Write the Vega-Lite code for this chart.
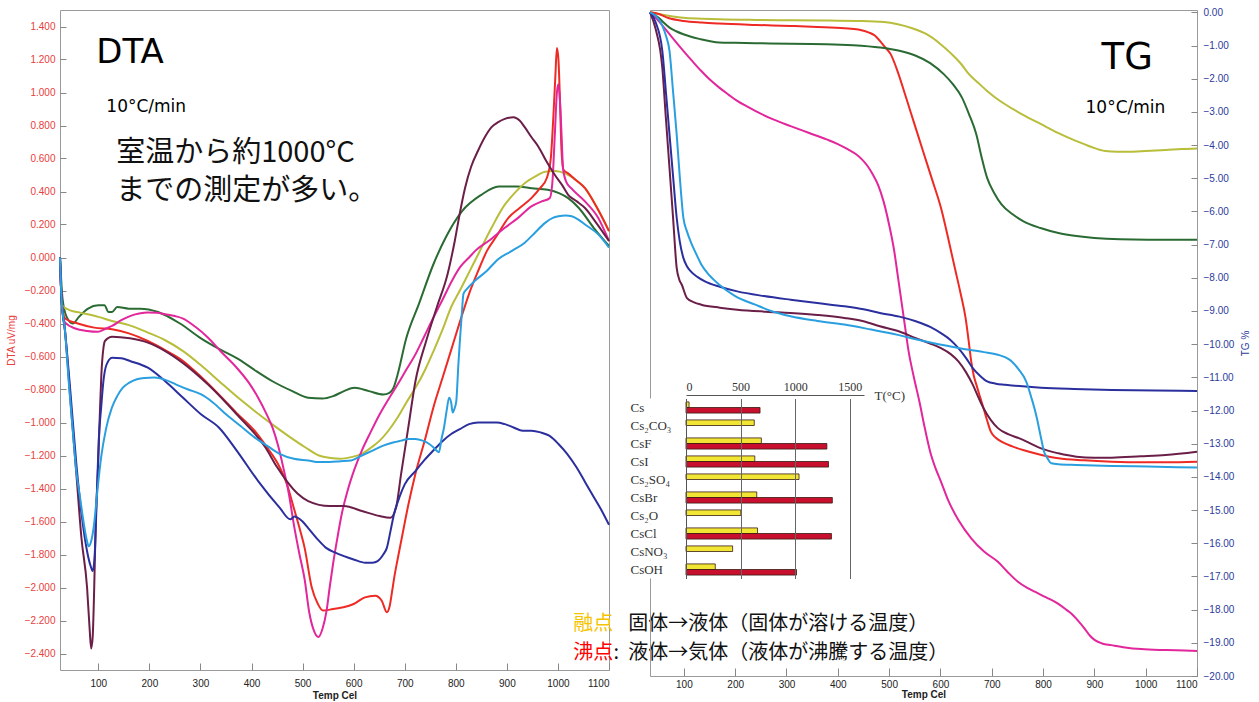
{
"$schema": "https://vega.github.io/schema/vega-lite/v6.json",
"background": "white",
"padding": {"left": 5, "top": 6, "right": 5, "bottom": 5},
"bounds": "flush",
"spacing": 41,
"config": {
 "view": {"stroke": "#9a9a9a", "strokeWidth": 1},
 "axis": {"labelFont": "Liberation Sans", "labelFontSize": 10, "titleFont": "Liberation Sans", "titleFontSize": 10, "grid": false, "tickColor": "#888888", "domain": false, "labelColor": "#222222", "titleColor": "#222222", "labelOverlap": false}
},
"datasets": {
 "dta": [
  {"s":"green","T":25,"v":0},{"s":"green","T":30,"v":-0.25},{"s":"green","T":38,"v":-0.36},{"s":"green","T":50,"v":-0.40},{"s":"green","T":62,"v":-0.36},{"s":"green","T":80,"v":-0.31},{"s":"green","T":100,"v":-0.29},{"s":"green","T":112,"v":-0.29},{"s":"green","T":120,"v":-0.33},{"s":"green","T":127,"v":-0.33},{"s":"green","T":137,"v":-0.30},{"s":"green","T":160,"v":-0.31},{"s":"green","T":182,"v":-0.31},{"s":"green","T":217,"v":-0.33},{"s":"green","T":260,"v":-0.40},{"s":"green","T":301,"v":-0.49},{"s":"green","T":340,"v":-0.56},{"s":"green","T":371,"v":-0.61},{"s":"green","T":410,"v":-0.69},{"s":"green","T":441,"v":-0.75},{"s":"green","T":480,"v":-0.81},{"s":"green","T":511,"v":-0.85},{"s":"green","T":539,"v":-0.855},{"s":"green","T":560,"v":-0.84},{"s":"green","T":581,"v":-0.81},{"s":"green","T":602,"v":-0.79},{"s":"green","T":630,"v":-0.81},{"s":"green","T":658,"v":-0.83},{"s":"green","T":670,"v":-0.82},{"s":"green","T":678,"v":-0.79},{"s":"green","T":686,"v":-0.71},{"s":"green","T":703,"v":-0.49},{"s":"green","T":728,"v":-0.28},{"s":"green","T":755,"v":-0.05},{"s":"green","T":780,"v":0.12},{"s":"green","T":812,"v":0.28},{"s":"green","T":850,"v":0.38},{"s":"green","T":884,"v":0.43},{"s":"green","T":920,"v":0.43},{"s":"green","T":949,"v":0.42},{"s":"green","T":980,"v":0.41},{"s":"green","T":1002,"v":0.39},{"s":"green","T":1020,"v":0.36},{"s":"green","T":1041,"v":0.30},{"s":"green","T":1070,"v":0.18},{"s":"green","T":1100,"v":0.07},
  {"s":"olive","T":25,"v":0},{"s":"olive","T":29,"v":-0.29},{"s":"olive","T":45,"v":-0.32},{"s":"olive","T":64,"v":-0.334},{"s":"olive","T":100,"v":-0.36},{"s":"olive","T":127,"v":-0.385},{"s":"olive","T":160,"v":-0.41},{"s":"olive","T":197,"v":-0.455},{"s":"olive","T":230,"v":-0.50},{"s":"olive","T":266,"v":-0.567},{"s":"olive","T":300,"v":-0.65},{"s":"olive","T":336,"v":-0.748},{"s":"olive","T":370,"v":-0.84},{"s":"olive","T":406,"v":-0.93},{"s":"olive","T":440,"v":-1.01},{"s":"olive","T":476,"v":-1.09},{"s":"olive","T":505,"v":-1.15},{"s":"olive","T":532,"v":-1.20},{"s":"olive","T":555,"v":-1.215},{"s":"olive","T":574,"v":-1.22},{"s":"olive","T":595,"v":-1.21},{"s":"olive","T":616,"v":-1.19},{"s":"olive","T":635,"v":-1.15},{"s":"olive","T":651,"v":-1.11},{"s":"olive","T":668,"v":-1.05},{"s":"olive","T":686,"v":-0.97},{"s":"olive","T":703,"v":-0.88},{"s":"olive","T":721,"v":-0.79},{"s":"olive","T":740,"v":-0.68},{"s":"olive","T":756,"v":-0.57},{"s":"olive","T":775,"v":-0.43},{"s":"olive","T":791,"v":-0.30},{"s":"olive","T":808,"v":-0.20},{"s":"olive","T":826,"v":-0.09},{"s":"olive","T":844,"v":0.02},{"s":"olive","T":870,"v":0.18},{"s":"olive","T":896,"v":0.32},{"s":"olive","T":915,"v":0.39},{"s":"olive","T":935,"v":0.45},{"s":"olive","T":955,"v":0.49},{"s":"olive","T":975,"v":0.52},{"s":"olive","T":995,"v":0.525},{"s":"olive","T":1014,"v":0.51},{"s":"olive","T":1035,"v":0.47},{"s":"olive","T":1053,"v":0.42},{"s":"olive","T":1075,"v":0.31},{"s":"olive","T":1100,"v":0.16},
  {"s":"red","T":25,"v":0},{"s":"red","T":28,"v":-0.25},{"s":"red","T":35,"v":-0.37},{"s":"red","T":60,"v":-0.40},{"s":"red","T":92,"v":-0.425},{"s":"red","T":127,"v":-0.435},{"s":"red","T":160,"v":-0.46},{"s":"red","T":197,"v":-0.506},{"s":"red","T":230,"v":-0.56},{"s":"red","T":266,"v":-0.627},{"s":"red","T":300,"v":-0.72},{"s":"red","T":336,"v":-0.83},{"s":"red","T":370,"v":-0.94},{"s":"red","T":406,"v":-1.05},{"s":"red","T":430,"v":-1.15},{"s":"red","T":455,"v":-1.27},{"s":"red","T":470,"v":-1.38},{"s":"red","T":483,"v":-1.52},{"s":"red","T":494,"v":-1.64},{"s":"red","T":504,"v":-1.76},{"s":"red","T":518,"v":-2.0},{"s":"red","T":530,"v":-2.10},{"s":"red","T":540,"v":-2.14},{"s":"red","T":560,"v":-2.13},{"s":"red","T":580,"v":-2.12},{"s":"red","T":600,"v":-2.10},{"s":"red","T":622,"v":-2.06},{"s":"red","T":642,"v":-2.05},{"s":"red","T":655,"v":-2.08},{"s":"red","T":665,"v":-2.15},{"s":"red","T":670,"v":-2.12},{"s":"red","T":675,"v":-2.03},{"s":"red","T":680,"v":-1.93},{"s":"red","T":686,"v":-1.83},{"s":"red","T":693,"v":-1.72},{"s":"red","T":707,"v":-1.50},{"s":"red","T":721,"v":-1.31},{"s":"red","T":740,"v":-1.10},{"s":"red","T":756,"v":-0.91},{"s":"red","T":775,"v":-0.72},{"s":"red","T":791,"v":-0.56},{"s":"red","T":808,"v":-0.39},{"s":"red","T":826,"v":-0.22},{"s":"red","T":844,"v":-0.08},{"s":"red","T":861,"v":0.04},{"s":"red","T":880,"v":0.13},{"s":"red","T":903,"v":0.24},{"s":"red","T":925,"v":0.30},{"s":"red","T":948,"v":0.36},{"s":"red","T":965,"v":0.42},{"s":"red","T":978,"v":0.48},{"s":"red","T":986,"v":0.60},{"s":"red","T":991,"v":0.85},{"s":"red","T":995,"v":1.10},{"s":"red","T":998,"v":1.27},{"s":"red","T":1001,"v":1.20},{"s":"red","T":1004,"v":0.95},{"s":"red","T":1007,"v":0.65},{"s":"red","T":1011,"v":0.53},{"s":"red","T":1020,"v":0.51},{"s":"red","T":1035,"v":0.47},{"s":"red","T":1053,"v":0.42},{"s":"red","T":1075,"v":0.31},{"s":"red","T":1100,"v":0.16},
  {"s":"magenta","T":25,"v":0},{"s":"magenta","T":28,"v":-0.25},{"s":"magenta","T":35,"v":-0.395},{"s":"magenta","T":55,"v":-0.43},{"s":"magenta","T":78,"v":-0.445},{"s":"magenta","T":99,"v":-0.45},{"s":"magenta","T":115,"v":-0.43},{"s":"magenta","T":127,"v":-0.415},{"s":"magenta","T":145,"v":-0.38},{"s":"magenta","T":162,"v":-0.355},{"s":"magenta","T":180,"v":-0.34},{"s":"magenta","T":197,"v":-0.334},{"s":"magenta","T":215,"v":-0.335},{"s":"magenta","T":231,"v":-0.344},{"s":"magenta","T":250,"v":-0.355},{"s":"magenta","T":266,"v":-0.37},{"s":"magenta","T":290,"v":-0.42},{"s":"magenta","T":315,"v":-0.486},{"s":"magenta","T":340,"v":-0.57},{"s":"magenta","T":371,"v":-0.668},{"s":"magenta","T":395,"v":-0.76},{"s":"magenta","T":413,"v":-0.85},{"s":"magenta","T":428,"v":-0.94},{"s":"magenta","T":441,"v":-1.03},{"s":"magenta","T":452,"v":-1.14},{"s":"magenta","T":462,"v":-1.27},{"s":"magenta","T":473,"v":-1.43},{"s":"magenta","T":483,"v":-1.62},{"s":"magenta","T":494,"v":-1.80},{"s":"magenta","T":504,"v":-1.95},{"s":"magenta","T":513,"v":-2.15},{"s":"magenta","T":522,"v":-2.26},{"s":"magenta","T":531,"v":-2.30},{"s":"magenta","T":539,"v":-2.25},{"s":"magenta","T":547,"v":-2.14},{"s":"magenta","T":553,"v":-2.0},{"s":"magenta","T":560,"v":-1.85},{"s":"magenta","T":567,"v":-1.72},{"s":"magenta","T":577,"v":-1.55},{"s":"magenta","T":588,"v":-1.415},{"s":"magenta","T":602,"v":-1.28},{"s":"magenta","T":616,"v":-1.17},{"s":"magenta","T":633,"v":-1.06},{"s":"magenta","T":651,"v":-0.95},{"s":"magenta","T":668,"v":-0.86},{"s":"magenta","T":686,"v":-0.77},{"s":"magenta","T":703,"v":-0.68},{"s":"magenta","T":721,"v":-0.587},{"s":"magenta","T":738,"v":-0.48},{"s":"magenta","T":756,"v":-0.365},{"s":"magenta","T":775,"v":-0.25},{"s":"magenta","T":791,"v":-0.15},{"s":"magenta","T":808,"v":-0.06},{"s":"magenta","T":826,"v":0.0},{"s":"magenta","T":838,"v":0.04},{"s":"magenta","T":864,"v":0.10},{"s":"magenta","T":896,"v":0.18},{"s":"magenta","T":922,"v":0.24},{"s":"magenta","T":948,"v":0.31},{"s":"magenta","T":968,"v":0.34},{"s":"magenta","T":984,"v":0.36},{"s":"magenta","T":989,"v":0.45},{"s":"magenta","T":994,"v":0.75},{"s":"magenta","T":998,"v":1.0},{"s":"magenta","T":1001,"v":1.05},{"s":"magenta","T":1004,"v":0.95},{"s":"magenta","T":1007,"v":0.75},{"s":"magenta","T":1010,"v":0.54},{"s":"magenta","T":1016,"v":0.46},{"s":"magenta","T":1026,"v":0.42},{"s":"magenta","T":1053,"v":0.34},{"s":"magenta","T":1079,"v":0.24},{"s":"magenta","T":1100,"v":0.10},
  {"s":"maroon","T":25,"v":0},{"s":"maroon","T":28,"v":-0.25},{"s":"maroon","T":35,"v":-0.45},{"s":"maroon","T":45,"v":-0.85},{"s":"maroon","T":57,"v":-1.31},{"s":"maroon","T":67,"v":-1.70},{"s":"maroon","T":78,"v":-2.0},{"s":"maroon","T":83,"v":-2.25},{"s":"maroon","T":86,"v":-2.37},{"s":"maroon","T":89,"v":-2.30},{"s":"maroon","T":92,"v":-2.0},{"s":"maroon","T":95,"v":-1.60},{"s":"maroon","T":99,"v":-1.31},{"s":"maroon","T":103,"v":-0.95},{"s":"maroon","T":106,"v":-0.71},{"s":"maroon","T":110,"v":-0.55},{"s":"maroon","T":113,"v":-0.506},{"s":"maroon","T":127,"v":-0.48},{"s":"maroon","T":162,"v":-0.49},{"s":"maroon","T":197,"v":-0.516},{"s":"maroon","T":231,"v":-0.567},{"s":"maroon","T":266,"v":-0.64},{"s":"maroon","T":315,"v":-0.77},{"s":"maroon","T":371,"v":-0.95},{"s":"maroon","T":427,"v":-1.15},{"s":"maroon","T":450,"v":-1.27},{"s":"maroon","T":469,"v":-1.355},{"s":"maroon","T":490,"v":-1.43},{"s":"maroon","T":511,"v":-1.476},{"s":"maroon","T":553,"v":-1.506},{"s":"maroon","T":581,"v":-1.506},{"s":"maroon","T":616,"v":-1.536},{"s":"maroon","T":651,"v":-1.567},{"s":"maroon","T":672,"v":-1.577},{"s":"maroon","T":683,"v":-1.516},{"s":"maroon","T":693,"v":-1.31},{"s":"maroon","T":707,"v":-1.03},{"s":"maroon","T":721,"v":-0.75},{"s":"maroon","T":742,"v":-0.506},{"s":"maroon","T":763,"v":-0.30},{"s":"maroon","T":784,"v":-0.10},{"s":"maroon","T":798,"v":0.10},{"s":"maroon","T":808,"v":0.27},{"s":"maroon","T":818,"v":0.42},{"s":"maroon","T":830,"v":0.55},{"s":"maroon","T":844,"v":0.65},{"s":"maroon","T":857,"v":0.73},{"s":"maroon","T":870,"v":0.79},{"s":"maroon","T":883,"v":0.82},{"s":"maroon","T":896,"v":0.84},{"s":"maroon","T":913,"v":0.85},{"s":"maroon","T":925,"v":0.83},{"s":"maroon","T":935,"v":0.79},{"s":"maroon","T":948,"v":0.73},{"s":"maroon","T":962,"v":0.67},{"s":"maroon","T":978,"v":0.58},{"s":"maroon","T":994,"v":0.50},{"s":"maroon","T":1008,"v":0.44},{"s":"maroon","T":1020,"v":0.38},{"s":"maroon","T":1037,"v":0.34},{"s":"maroon","T":1053,"v":0.30},{"s":"maroon","T":1075,"v":0.21},{"s":"maroon","T":1100,"v":0.10},
  {"s":"navy","T":25,"v":0},{"s":"navy","T":28,"v":-0.25},{"s":"navy","T":35,"v":-0.45},{"s":"navy","T":45,"v":-0.80},{"s":"navy","T":57,"v":-1.25},{"s":"navy","T":67,"v":-1.55},{"s":"navy","T":78,"v":-1.78},{"s":"navy","T":85,"v":-1.87},{"s":"navy","T":89,"v":-1.90},{"s":"navy","T":93,"v":-1.80},{"s":"navy","T":97,"v":-1.45},{"s":"navy","T":101,"v":-1.10},{"s":"navy","T":105.6,"v":-0.91},{"s":"navy","T":110,"v":-0.75},{"s":"navy","T":116,"v":-0.65},{"s":"navy","T":127,"v":-0.607},{"s":"navy","T":145,"v":-0.61},{"s":"navy","T":162,"v":-0.627},{"s":"navy","T":197,"v":-0.668},{"s":"navy","T":231,"v":-0.75},{"s":"navy","T":266,"v":-0.85},{"s":"navy","T":301,"v":-0.95},{"s":"navy","T":336,"v":-1.03},{"s":"navy","T":371,"v":-1.17},{"s":"navy","T":413,"v":-1.355},{"s":"navy","T":455,"v":-1.516},{"s":"navy","T":476,"v":-1.587},{"s":"navy","T":484,"v":-1.57},{"s":"navy","T":490,"v":-1.577},{"s":"navy","T":500,"v":-1.60},{"s":"navy","T":511,"v":-1.64},{"s":"navy","T":530,"v":-1.71},{"s":"navy","T":546,"v":-1.76},{"s":"navy","T":565,"v":-1.79},{"s":"navy","T":581,"v":-1.81},{"s":"navy","T":600,"v":-1.83},{"s":"navy","T":623,"v":-1.85},{"s":"navy","T":637,"v":-1.85},{"s":"navy","T":647,"v":-1.84},{"s":"navy","T":658,"v":-1.80},{"s":"navy","T":665,"v":-1.76},{"s":"navy","T":672,"v":-1.66},{"s":"navy","T":679,"v":-1.556},{"s":"navy","T":690,"v":-1.45},{"s":"navy","T":700,"v":-1.375},{"s":"navy","T":721,"v":-1.294},{"s":"navy","T":738,"v":-1.23},{"s":"navy","T":756,"v":-1.17},{"s":"navy","T":775,"v":-1.11},{"s":"navy","T":791,"v":-1.07},{"s":"navy","T":808,"v":-1.04},{"s":"navy","T":826,"v":-1.01},{"s":"navy","T":844,"v":-1.00},{"s":"navy","T":861,"v":-1.00},{"s":"navy","T":880,"v":-1.00},{"s":"navy","T":896,"v":-1.01},{"s":"navy","T":913,"v":-1.03},{"s":"navy","T":931,"v":-1.05},{"s":"navy","T":948,"v":-1.05},{"s":"navy","T":966,"v":-1.06},{"s":"navy","T":983,"v":-1.08},{"s":"navy","T":1001,"v":-1.13},{"s":"navy","T":1018,"v":-1.19},{"s":"navy","T":1036,"v":-1.27},{"s":"navy","T":1053,"v":-1.36},{"s":"navy","T":1071,"v":-1.456},{"s":"navy","T":1085,"v":-1.53},{"s":"navy","T":1100,"v":-1.62},
  {"s":"sky","T":25,"v":0},{"s":"sky","T":28,"v":-0.25},{"s":"sky","T":35,"v":-0.45},{"s":"sky","T":42,"v":-0.75},{"s":"sky","T":50,"v":-1.05},{"s":"sky","T":57,"v":-1.30},{"s":"sky","T":64,"v":-1.45},{"s":"sky","T":72,"v":-1.62},{"s":"sky","T":78,"v":-1.72},{"s":"sky","T":81,"v":-1.75},{"s":"sky","T":85,"v":-1.73},{"s":"sky","T":91.6,"v":-1.62},{"s":"sky","T":98,"v":-1.42},{"s":"sky","T":105.6,"v":-1.21},{"s":"sky","T":115,"v":-1.04},{"s":"sky","T":126.6,"v":-0.91},{"s":"sky","T":137,"v":-0.84},{"s":"sky","T":147.6,"v":-0.79},{"s":"sky","T":160,"v":-0.76},{"s":"sky","T":175.5,"v":-0.738},{"s":"sky","T":190,"v":-0.73},{"s":"sky","T":210,"v":-0.728},{"s":"sky","T":230,"v":-0.74},{"s":"sky","T":252.5,"v":-0.77},{"s":"sky","T":276,"v":-0.80},{"s":"sky","T":301.5,"v":-0.83},{"s":"sky","T":325,"v":-0.88},{"s":"sky","T":350,"v":-0.95},{"s":"sky","T":378,"v":-1.02},{"s":"sky","T":406,"v":-1.09},{"s":"sky","T":430,"v":-1.14},{"s":"sky","T":455,"v":-1.19},{"s":"sky","T":483,"v":-1.22},{"s":"sky","T":511,"v":-1.23},{"s":"sky","T":532,"v":-1.24},{"s":"sky","T":553,"v":-1.24},{"s":"sky","T":574,"v":-1.235},{"s":"sky","T":595,"v":-1.23},{"s":"sky","T":616,"v":-1.20},{"s":"sky","T":637,"v":-1.17},{"s":"sky","T":658,"v":-1.14},{"s":"sky","T":679,"v":-1.12},{"s":"sky","T":693,"v":-1.11},{"s":"sky","T":707,"v":-1.10},{"s":"sky","T":721,"v":-1.10},{"s":"sky","T":735,"v":-1.11},{"s":"sky","T":748,"v":-1.13},{"s":"sky","T":756,"v":-1.15},{"s":"sky","T":762,"v":-1.17},{"s":"sky","T":767,"v":-1.18},{"s":"sky","T":772,"v":-1.10},{"s":"sky","T":777,"v":-1.03},{"s":"sky","T":782,"v":-0.93},{"s":"sky","T":787,"v":-0.85},{"s":"sky","T":791,"v":-0.88},{"s":"sky","T":794,"v":-0.94},{"s":"sky","T":797,"v":-0.92},{"s":"sky","T":801,"v":-0.87},{"s":"sky","T":805,"v":-0.65},{"s":"sky","T":808,"v":-0.506},{"s":"sky","T":812,"v":-0.33},{"s":"sky","T":815,"v":-0.22},{"s":"sky","T":822,"v":-0.19},{"s":"sky","T":838,"v":-0.14},{"s":"sky","T":861,"v":-0.08},{"s":"sky","T":883,"v":-0.01},{"s":"sky","T":910,"v":0.04},{"s":"sky","T":935,"v":0.09},{"s":"sky","T":955,"v":0.15},{"s":"sky","T":975,"v":0.21},{"s":"sky","T":990,"v":0.24},{"s":"sky","T":1001,"v":0.25},{"s":"sky","T":1015,"v":0.255},{"s":"sky","T":1027,"v":0.25},{"s":"sky","T":1040,"v":0.23},{"s":"sky","T":1053,"v":0.20},{"s":"sky","T":1079,"v":0.14},{"s":"sky","T":1100,"v":0.06}
 ],
 "tg": [
  {"s":"olive","T":34,"v":0},{"s":"olive","T":51,"v":-0.05},{"s":"olive","T":70,"v":-0.10},{"s":"olive","T":99,"v":-0.16},{"s":"olive","T":135,"v":-0.19},{"s":"olive","T":169,"v":-0.21},{"s":"olive","T":240,"v":-0.23},{"s":"olive","T":308,"v":-0.24},{"s":"olive","T":380,"v":-0.25},{"s":"olive","T":447,"v":-0.26},{"s":"olive","T":490,"v":-0.29},{"s":"olive","T":517,"v":-0.36},{"s":"olive","T":545,"v":-0.48},{"s":"olive","T":573,"v":-0.66},{"s":"olive","T":598,"v":-0.93},{"s":"olive","T":622,"v":-1.26},{"s":"olive","T":640,"v":-1.55},{"s":"olive","T":656,"v":-1.87},{"s":"olive","T":674,"v":-2.13},{"s":"olive","T":691,"v":-2.37},{"s":"olive","T":708,"v":-2.58},{"s":"olive","T":726,"v":-2.77},{"s":"olive","T":760,"v":-3.08},{"s":"olive","T":796,"v":-3.37},{"s":"olive","T":830,"v":-3.64},{"s":"olive","T":865,"v":-3.88},{"s":"olive","T":893,"v":-4.05},{"s":"olive","T":921,"v":-4.18},{"s":"olive","T":945,"v":-4.20},{"s":"olive","T":969,"v":-4.20},{"s":"olive","T":1000,"v":-4.18},{"s":"olive","T":1039,"v":-4.15},{"s":"olive","T":1070,"v":-4.12},{"s":"olive","T":1100,"v":-4.10},
  {"s":"red","T":34,"v":0},{"s":"red","T":51,"v":-0.05},{"s":"red","T":70,"v":-0.17},{"s":"red","T":99,"v":-0.26},{"s":"red","T":135,"v":-0.31},{"s":"red","T":169,"v":-0.34},{"s":"red","T":240,"v":-0.38},{"s":"red","T":308,"v":-0.41},{"s":"red","T":360,"v":-0.44},{"s":"red","T":413,"v":-0.48},{"s":"red","T":440,"v":-0.52},{"s":"red","T":461,"v":-0.61},{"s":"red","T":472,"v":-0.70},{"s":"red","T":482,"v":-0.86},{"s":"red","T":492,"v":-1.05},{"s":"red","T":503,"v":-1.26},{"s":"red","T":517,"v":-1.80},{"s":"red","T":531,"v":-2.47},{"s":"red","T":548,"v":-3.30},{"s":"red","T":566,"v":-4.18},{"s":"red","T":584,"v":-5.05},{"s":"red","T":601,"v":-5.89},{"s":"red","T":615,"v":-6.80},{"s":"red","T":628,"v":-7.70},{"s":"red","T":639,"v":-8.45},{"s":"red","T":649,"v":-9.21},{"s":"red","T":655,"v":-9.90},{"s":"red","T":660,"v":-10.52},{"s":"red","T":665,"v":-10.95},{"s":"red","T":670,"v":-11.22},{"s":"red","T":677,"v":-11.58},{"s":"red","T":684,"v":-11.93},{"s":"red","T":691,"v":-12.30},{"s":"red","T":698,"v":-12.63},{"s":"red","T":708,"v":-12.82},{"s":"red","T":719,"v":-12.94},{"s":"red","T":740,"v":-13.08},{"s":"red","T":761,"v":-13.19},{"s":"red","T":795,"v":-13.33},{"s":"red","T":830,"v":-13.44},{"s":"red","T":880,"v":-13.50},{"s":"red","T":934,"v":-13.54},{"s":"red","T":990,"v":-13.56},{"s":"red","T":1039,"v":-13.56},{"s":"red","T":1100,"v":-13.54},
  {"s":"green","T":34,"v":0},{"s":"green","T":51,"v":-0.16},{"s":"green","T":60,"v":-0.30},{"s":"green","T":72,"v":-0.46},{"s":"green","T":85,"v":-0.57},{"s":"green","T":99,"v":-0.66},{"s":"green","T":130,"v":-0.80},{"s":"green","T":169,"v":-0.91},{"s":"green","T":200,"v":-0.92},{"s":"green","T":239,"v":-0.93},{"s":"green","T":308,"v":-0.95},{"s":"green","T":378,"v":-0.96},{"s":"green","T":430,"v":-0.99},{"s":"green","T":482,"v":-1.06},{"s":"green","T":520,"v":-1.16},{"s":"green","T":552,"v":-1.31},{"s":"green","T":580,"v":-1.53},{"s":"green","T":607,"v":-1.87},{"s":"green","T":625,"v":-2.18},{"s":"green","T":642,"v":-2.57},{"s":"green","T":656,"v":-3.08},{"s":"green","T":670,"v":-3.68},{"s":"green","T":680,"v":-4.35},{"s":"green","T":691,"v":-4.99},{"s":"green","T":705,"v":-5.45},{"s":"green","T":719,"v":-5.79},{"s":"green","T":740,"v":-6.08},{"s":"green","T":761,"v":-6.29},{"s":"green","T":795,"v":-6.50},{"s":"green","T":830,"v":-6.65},{"s":"green","T":865,"v":-6.74},{"s":"green","T":900,"v":-6.80},{"s":"green","T":950,"v":-6.84},{"s":"green","T":1004,"v":-6.85},{"s":"green","T":1050,"v":-6.85},{"s":"green","T":1100,"v":-6.85},
  {"s":"magenta","T":34,"v":0},{"s":"magenta","T":50,"v":-0.25},{"s":"magenta","T":72,"v":-0.66},{"s":"magenta","T":99,"v":-1.16},{"s":"magenta","T":117,"v":-1.48},{"s":"magenta","T":134,"v":-1.77},{"s":"magenta","T":150,"v":-2.02},{"s":"magenta","T":169,"v":-2.27},{"s":"magenta","T":187,"v":-2.48},{"s":"magenta","T":204,"v":-2.67},{"s":"magenta","T":222,"v":-2.83},{"s":"magenta","T":239,"v":-2.97},{"s":"magenta","T":273,"v":-3.22},{"s":"magenta","T":308,"v":-3.43},{"s":"magenta","T":343,"v":-3.63},{"s":"magenta","T":378,"v":-3.83},{"s":"magenta","T":400,"v":-3.97},{"s":"magenta","T":420,"v":-4.13},{"s":"magenta","T":435,"v":-4.27},{"s":"magenta","T":447,"v":-4.43},{"s":"magenta","T":458,"v":-4.63},{"s":"magenta","T":468,"v":-4.88},{"s":"magenta","T":479,"v":-5.22},{"s":"magenta","T":489,"v":-5.69},{"s":"magenta","T":500,"v":-6.40},{"s":"magenta","T":510,"v":-7.20},{"s":"magenta","T":517,"v":-7.95},{"s":"magenta","T":524,"v":-8.71},{"s":"magenta","T":531,"v":-9.47},{"s":"magenta","T":538,"v":-10.22},{"s":"magenta","T":548,"v":-10.98},{"s":"magenta","T":559,"v":-11.73},{"s":"magenta","T":569,"v":-12.49},{"s":"magenta","T":580,"v":-13.24},{"s":"magenta","T":590,"v":-13.72},{"s":"magenta","T":601,"v":-14.14},{"s":"magenta","T":615,"v":-14.70},{"s":"magenta","T":635,"v":-15.30},{"s":"magenta","T":660,"v":-15.85},{"s":"magenta","T":685,"v":-16.25},{"s":"magenta","T":712,"v":-16.56},{"s":"magenta","T":730,"v":-16.85},{"s":"magenta","T":751,"v":-17.16},{"s":"magenta","T":770,"v":-17.35},{"s":"magenta","T":784,"v":-17.46},{"s":"magenta","T":806,"v":-17.63},{"s":"magenta","T":829,"v":-17.82},{"s":"magenta","T":845,"v":-18.00},{"s":"magenta","T":855,"v":-18.12},{"s":"magenta","T":868,"v":-18.33},{"s":"magenta","T":881,"v":-18.57},{"s":"magenta","T":891,"v":-18.78},{"s":"magenta","T":901,"v":-18.92},{"s":"magenta","T":915,"v":-19.02},{"s":"magenta","T":933,"v":-19.07},{"s":"magenta","T":960,"v":-19.14},{"s":"magenta","T":991,"v":-19.19},{"s":"magenta","T":1040,"v":-19.22},{"s":"magenta","T":1088,"v":-19.24},{"s":"magenta","T":1100,"v":-19.25},
  {"s":"maroon","T":34,"v":0},{"s":"maroon","T":45,"v":-0.5},{"s":"maroon","T":58,"v":-1.67},{"s":"maroon","T":65,"v":-3.2},{"s":"maroon","T":72,"v":-4.69},{"s":"maroon","T":79,"v":-6.2},{"s":"maroon","T":86,"v":-7.70},{"s":"maroon","T":91,"v":-8.05},{"s":"maroon","T":96,"v":-8.21},{"s":"maroon","T":106,"v":-8.61},{"s":"maroon","T":120,"v":-8.74},{"s":"maroon","T":134,"v":-8.81},{"s":"maroon","T":170,"v":-8.90},{"s":"maroon","T":204,"v":-8.96},{"s":"maroon","T":260,"v":-9.02},{"s":"maroon","T":308,"v":-9.06},{"s":"maroon","T":360,"v":-9.12},{"s":"maroon","T":413,"v":-9.21},{"s":"maroon","T":450,"v":-9.31},{"s":"maroon","T":482,"v":-9.46},{"s":"maroon","T":520,"v":-9.62},{"s":"maroon","T":552,"v":-9.82},{"s":"maroon","T":580,"v":-9.98},{"s":"maroon","T":601,"v":-10.12},{"s":"maroon","T":620,"v":-10.30},{"s":"maroon","T":635,"v":-10.52},{"s":"maroon","T":650,"v":-10.85},{"s":"maroon","T":663,"v":-11.22},{"s":"maroon","T":674,"v":-11.60},{"s":"maroon","T":684,"v":-11.93},{"s":"maroon","T":698,"v":-12.28},{"s":"maroon","T":712,"v":-12.53},{"s":"maroon","T":733,"v":-12.72},{"s":"maroon","T":754,"v":-12.84},{"s":"maroon","T":775,"v":-12.99},{"s":"maroon","T":796,"v":-13.14},{"s":"maroon","T":830,"v":-13.29},{"s":"maroon","T":865,"v":-13.39},{"s":"maroon","T":900,"v":-13.42},{"s":"maroon","T":934,"v":-13.42},{"s":"maroon","T":990,"v":-13.38},{"s":"maroon","T":1039,"v":-13.34},{"s":"maroon","T":1100,"v":-13.24},
  {"s":"navy","T":34,"v":0},{"s":"navy","T":45,"v":-0.3},{"s":"navy","T":58,"v":-1.16},{"s":"navy","T":65,"v":-2.4},{"s":"navy","T":72,"v":-3.68},{"s":"navy","T":79,"v":-4.95},{"s":"navy","T":86,"v":-6.19},{"s":"navy","T":92,"v":-6.9},{"s":"navy","T":99,"v":-7.40},{"s":"navy","T":106,"v":-7.65},{"s":"navy","T":113,"v":-7.80},{"s":"navy","T":127,"v":-7.98},{"s":"navy","T":141,"v":-8.11},{"s":"navy","T":170,"v":-8.27},{"s":"navy","T":204,"v":-8.41},{"s":"navy","T":256,"v":-8.55},{"s":"navy","T":308,"v":-8.66},{"s":"navy","T":360,"v":-8.76},{"s":"navy","T":413,"v":-8.86},{"s":"navy","T":450,"v":-8.95},{"s":"navy","T":482,"v":-9.06},{"s":"navy","T":520,"v":-9.17},{"s":"navy","T":552,"v":-9.31},{"s":"navy","T":580,"v":-9.48},{"s":"navy","T":601,"v":-9.67},{"s":"navy","T":620,"v":-9.88},{"s":"navy","T":635,"v":-10.12},{"s":"navy","T":650,"v":-10.42},{"s":"navy","T":663,"v":-10.72},{"s":"navy","T":677,"v":-10.95},{"s":"navy","T":691,"v":-11.12},{"s":"navy","T":708,"v":-11.19},{"s":"navy","T":726,"v":-11.22},{"s":"navy","T":760,"v":-11.27},{"s":"navy","T":796,"v":-11.31},{"s":"navy","T":860,"v":-11.35},{"s":"navy","T":934,"v":-11.38},{"s":"navy","T":1020,"v":-11.40},{"s":"navy","T":1100,"v":-11.41},
  {"s":"sky","T":34,"v":0},{"s":"sky","T":45,"v":-0.1},{"s":"sky","T":58,"v":-0.4},{"s":"sky","T":65,"v":-0.7},{"s":"sky","T":72,"v":-1.16},{"s":"sky","T":79,"v":-2.4},{"s":"sky","T":86,"v":-3.68},{"s":"sky","T":92,"v":-4.95},{"s":"sky","T":99,"v":-6.19},{"s":"sky","T":106,"v":-6.60},{"s":"sky","T":113,"v":-6.90},{"s":"sky","T":124,"v":-7.28},{"s":"sky","T":134,"v":-7.60},{"s":"sky","T":150,"v":-7.93},{"s":"sky","T":169,"v":-8.21},{"s":"sky","T":200,"v":-8.55},{"s":"sky","T":239,"v":-8.81},{"s":"sky","T":270,"v":-9.00},{"s":"sky","T":308,"v":-9.16},{"s":"sky","T":360,"v":-9.30},{"s":"sky","T":413,"v":-9.41},{"s":"sky","T":465,"v":-9.56},{"s":"sky","T":517,"v":-9.72},{"s":"sky","T":552,"v":-9.85},{"s":"sky","T":587,"v":-9.97},{"s":"sky","T":620,"v":-10.07},{"s":"sky","T":656,"v":-10.17},{"s":"sky","T":685,"v":-10.24},{"s":"sky","T":712,"v":-10.32},{"s":"sky","T":727,"v":-10.40},{"s":"sky","T":739,"v":-10.52},{"s":"sky","T":752,"v":-10.75},{"s":"sky","T":767,"v":-11.12},{"s":"sky","T":778,"v":-11.65},{"s":"sky","T":788,"v":-12.23},{"s":"sky","T":795,"v":-12.75},{"s":"sky","T":802,"v":-13.24},{"s":"sky","T":809,"v":-13.45},{"s":"sky","T":816,"v":-13.59},{"s":"sky","T":830,"v":-13.62},{"s":"sky","T":865,"v":-13.64},{"s":"sky","T":934,"v":-13.67},{"s":"sky","T":1004,"v":-13.69},{"s":"sky","T":1100,"v":-13.72}
 ],
 "bars": [
  {"c":"Cs","k":"融点","t":28},{"c":"Cs","k":"沸点","t":678},
  {"c":"Cs₂CO₃","k":"融点","t":625},
  {"c":"CsF","k":"融点","t":690},{"c":"CsF","k":"沸点","t":1290},
  {"c":"CsI","k":"融点","t":630},{"c":"CsI","k":"沸点","t":1305},
  {"c":"Cs₂SO₄","k":"融点","t":1035},
  {"c":"CsBr","k":"融点","t":648},{"c":"CsBr","k":"沸点","t":1340},
  {"c":"Cs₂O","k":"融点","t":502},
  {"c":"CsCl","k":"融点","t":655},{"c":"CsCl","k":"沸点","t":1332},
  {"c":"CsNO₃","k":"融点","t":427},
  {"c":"CsOH","k":"融点","t":268},{"c":"CsOH","k":"沸点","t":1012}
 ]
},
"hconcat": [
 {
  "width": 549, "height": 660,
  "resolve": {"axis": {"x": "independent", "y": "independent"}},
  "layer": [
   {"data": {"name": "dta"}, "mark": {"type": "line", "strokeWidth": 2, "interpolate": "monotone"},
    "encoding": {
     "x": {"field": "T", "type": "quantitative", "scale": {"domain": [25, 1100], "nice": false, "zero": false},
      "axis": {"values": [100,200,300,400,500,600,700,800,900,1000,1100], "format": "d", "title": "Temp Cel", "titleFontWeight": "bold", "tickSize": -7, "labelPadding": 15, "titlePadding": 2}},
     "y": {"field": "v", "type": "quantitative", "scale": {"domain": [-2.5, 1.5], "nice": false, "zero": false},
      "axis": {"values": [-2.4,-2.2,-2,-1.8,-1.6,-1.4,-1.2,-1,-0.8,-0.6,-0.4,-0.2,0,0.2,0.4,0.6,0.8,1,1.2,1.4], "format": ".3f", "tickSize": -6, "labelPadding": 11, "labelColor": "#e8403c", "title": "DTA uV/mg", "titleColor": "#e8403c", "titleFontWeight": "normal", "titlePadding": 8}},
     "color": {"field": "s", "type": "nominal", "legend": null, "scale": {"domain": ["red","magenta","olive","green","maroon","navy","sky"], "range": ["#ee2a24","#e2269b","#b8bd3a","#2a6b33","#6b1f48","#2b2f9e","#2a9fe0"]}}}},
   {"data": {"values": [{"label": "DTA"}]}, "mark": {"type": "text", "font": "DejaVu Sans", "fontSize": 34, "align": "left", "baseline": "alphabetic", "color": "#000000"},
    "encoding": {"x": {"datum": 96, "type": "quantitative", "axis": null}, "y": {"datum": 1.179, "type": "quantitative", "axis": null}, "text": {"field": "label"}}},
   {"data": {"values": [{"label": "10°C/min"}]}, "mark": {"type": "text", "font": "DejaVu Sans", "fontSize": 17, "align": "left", "baseline": "alphabetic", "color": "#000000"},
    "encoding": {"x": {"datum": 115.7, "type": "quantitative", "axis": null}, "y": {"datum": 0.882, "type": "quantitative", "axis": null}, "text": {"field": "label"}}},
   {"data": {"values": [{"label": "室温から約1000°C"}]}, "mark": {"type": "text", "font": "Noto Sans CJK JP", "fontSize": 29, "align": "left", "baseline": "alphabetic", "color": "#111111"},
    "encoding": {"x": {"datum": 135, "type": "quantitative", "axis": null}, "y": {"datum": 0.579, "type": "quantitative", "axis": null}, "text": {"field": "label"}}},
   {"data": {"values": [{"label": "までの測定が多い。"}]}, "mark": {"type": "text", "font": "Noto Sans CJK JP", "fontSize": 29, "align": "left", "baseline": "alphabetic", "color": "#111111"},
    "encoding": {"x": {"datum": 135, "type": "quantitative", "axis": null}, "y": {"datum": 0.348, "type": "quantitative", "axis": null}, "text": {"field": "label"}}},
   {"data": {"values": [{"label": "融点"}]}, "mark": {"type": "text", "font": "Noto Sans CJK JP", "fontSize": 20, "align": "left", "baseline": "alphabetic", "color": "#f5c400"},
    "encoding": {"x": {"datum": 1030, "type": "quantitative", "axis": null}, "y": {"datum": -2.258, "type": "quantitative", "axis": null}, "text": {"field": "label"}}},
   {"data": {"values": [{"label": "固体→液体（固体が溶ける温度）"}]}, "mark": {"type": "text", "font": "Noto Sans CJK JP", "fontSize": 20, "align": "left", "baseline": "alphabetic", "color": "#111111"},
    "encoding": {"x": {"datum": 1137.8, "type": "quantitative", "axis": null}, "y": {"datum": -2.258, "type": "quantitative", "axis": null}, "text": {"field": "label"}}},
   {"data": {"values": [{"label": "沸点"}]}, "mark": {"type": "text", "font": "Noto Sans CJK JP", "fontSize": 20, "align": "left", "baseline": "alphabetic", "color": "#ff0000"},
    "encoding": {"x": {"datum": 1030, "type": "quantitative", "axis": null}, "y": {"datum": -2.433, "type": "quantitative", "axis": null}, "text": {"field": "label"}}},
   {"data": {"values": [{"label": ":"}]}, "mark": {"type": "text", "font": "Noto Sans CJK JP", "fontSize": 20, "align": "left", "baseline": "alphabetic", "color": "#111111"},
    "encoding": {"x": {"datum": 1109, "type": "quantitative", "axis": null}, "y": {"datum": -2.433, "type": "quantitative", "axis": null}, "text": {"field": "label"}}},
   {"data": {"values": [{"label": "液体→気体（液体が沸騰する温度）"}]}, "mark": {"type": "text", "font": "Noto Sans CJK JP", "fontSize": 20, "align": "left", "baseline": "alphabetic", "color": "#111111"},
    "encoding": {"x": {"datum": 1137.8, "type": "quantitative", "axis": null}, "y": {"datum": -2.433, "type": "quantitative", "axis": null}, "text": {"field": "label"}}}
  ]
 },
 {
  "width": 547, "height": 666,
  "resolve": {"scale": {"x": "independent", "y": "independent"}},
  "layer": [
   {
    "resolve": {"axis": {"x": "independent", "y": "independent"}},
    "layer": [
     {"data": {"name": "tg"}, "mark": {"type": "line", "strokeWidth": 2, "interpolate": "monotone"},
      "encoding": {
       "x": {"field": "T", "type": "quantitative", "scale": {"domain": [34, 1100], "nice": false, "zero": false},
        "axis": {"orient": "bottom", "values": [100,200,300,400,500,600,700,800,900,1000,1100], "format": "d", "title": "Temp Cel", "titleFontWeight": "bold", "tickSize": -8, "labelPadding": 11, "titlePadding": 0}},
       "y": {"field": "v", "type": "quantitative", "scale": {"domain": [-20, 0.07], "nice": false, "zero": false},
        "axis": {"orient": "right", "values": [0,-1,-2,-3,-4,-5,-6,-7,-8,-9,-10,-11,-12,-13,-14,-15,-16,-17,-18,-19,-20], "format": ".2f", "tickSize": -6, "labelPadding": 12, "labelColor": "#2b3b9c", "title": "TG %", "titleColor": "#2b3b9c", "titleFontWeight": "normal", "titleAngle": -90, "titlePadding": 17}},
       "color": {"field": "s", "type": "nominal", "legend": null, "scale": {"domain": ["red","magenta","olive","green","maroon","navy","sky"], "range": ["#ee2a24","#e2269b","#b8bd3a","#2a6b33","#6b1f48","#2b2f9e","#2a9fe0"]}}}},
     {"data": {"values": [{"label": "TG"}]}, "mark": {"type": "text", "font": "DejaVu Sans", "fontSize": 37, "align": "left", "baseline": "alphabetic", "color": "#000000"},
      "encoding": {"x": {"datum": 914, "type": "quantitative", "axis": null}, "y": {"datum": -1.706, "type": "quantitative", "axis": null}, "text": {"field": "label"}}},
     {"data": {"values": [{"label": "10°C/min"}]}, "mark": {"type": "text", "font": "DejaVu Sans", "fontSize": 17, "align": "left", "baseline": "alphabetic", "color": "#000000"},
      "encoding": {"x": {"datum": 882.7, "type": "quantitative", "axis": null}, "y": {"datum": -3.03, "type": "quantitative", "axis": null}, "text": {"field": "label"}}}
    ]
   },
   {
    "data": {"name": "bars"},
    "resolve": {"axis": {"x": "independent", "y": "independent"}},
    "layer": [
     {"transform": [{"filter": "datum.k === '融点'"}],
      "mark": {"type": "bar", "color": "white", "height": {"band": 1.62}},
      "encoding": {
       "x": {"datum": -560, "type": "quantitative", "axis": null},
       "x2": {"datum": 1700},
       "y": {"field": "c", "type": "nominal", "axis": null}
      }},
     {"mark": {"type": "bar", "stroke": "#3a1a10", "strokeWidth": 0.8},
      "encoding": {
       "x": {"field": "t", "type": "quantitative", "scale": {"domain": [0, 1630], "range": [36, 214], "nice": false},
        "axis": {"orient": "top", "offset": -385, "zindex": 1, "values": [0,500,1000,1500], "format": "d", "grid": true, "gridColor": "#666666", "domain": true, "domainColor": "#555555", "ticks": false, "labelFont": "Liberation Serif", "labelFontSize": 12, "labelColor": "#333333", "labelPadding": 2,
         "title": "T(°C)", "titleFont": "Liberation Serif", "titleFontSize": 13, "titleFontWeight": "normal", "titleColor": "#333333", "titleAngle": 0, "titleAlign": "left", "titleBaseline": "middle", "titleX": 224, "titleY": 0}},
       "y": {"field": "c", "type": "nominal", "scale": {"domain": ["Cs","Cs₂CO₃","CsF","CsI","Cs₂SO₄","CsBr","Cs₂O","CsCl","CsNO₃","CsOH"], "range": [388.5, 568.5], "paddingInner": 0.38, "paddingOuter": 0.19},
        "axis": {"orient": "left", "offset": -36, "zindex": 1, "title": null, "domain": true, "domainColor": "#555555", "ticks": false, "labelAlign": "left", "labelPadding": 56, "labelFont": "Liberation Serif", "labelFontSize": 13, "labelColor": "#333333"}},
       "yOffset": {"field": "k", "type": "nominal", "scale": {"domain": ["融点","沸点"]}},
       "fill": {"field": "k", "type": "nominal", "legend": null, "scale": {"domain": ["融点","沸点"], "range": ["#f2e634","#c8102e"]}}
      }}
    ]
   }
  ]
 }
]
}
